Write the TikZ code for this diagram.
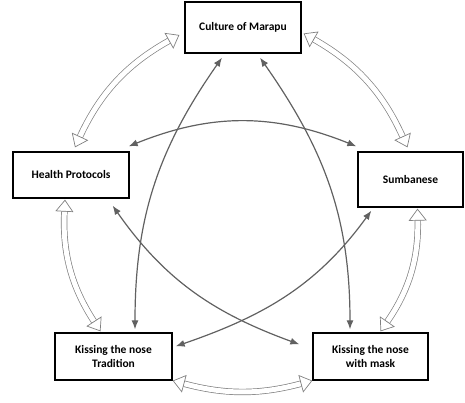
\documentclass[tikz,border=0pt]{standalone}
\usepackage{fontspec}
\setmainfont{Carlito}
\usepackage{tikz}
\usetikzlibrary{arrows.meta}

\begin{document}
\begin{tikzpicture}[
  x=1pt, y=1pt,
  font=\fontsize{11.5}{13.5}\selectfont\bfseries,
  box/.style={draw, line width=1.3pt, fill=white, align=center, inner sep=2pt},
  arrow/.style={{Latex[length=9pt,width=7pt]}-{Latex[length=9pt,width=7pt]},
                draw=black!62, line width=1.2pt},
  hollow/.style={{Triangle[open,length=12pt,width=18pt]}-{Triangle[open,length=12pt,width=18pt]},
                 draw=black!50, line width=0.7pt, double=white, double distance=5pt}
]
\useasboundingbox (0,0) rectangle (465,403);

\node[box, minimum width=116pt, minimum height=51pt] (marapu) at (243,375.5) {Culture of Marapu};
\node[box, minimum width=116pt, minimum height=46pt] (health) at (71,228) {Health Protocols};
\node[box, minimum width=105pt, minimum height=55pt] (sumba) at (410.5,223.5) {Sumbanese};
\node[box, minimum width=117pt, minimum height=47pt] (trad) at (113.5,46.5) {Kissing the nose\\Tradition};
\node[box, minimum width=115pt, minimum height=47pt] (mask) at (370.5,46.5) {Kissing the nose\\with mask};

% outer ring
\draw[hollow] ([xshift=-5pt,yshift=-7.5pt]marapu.west) to[bend right=18] ([xshift=4pt,yshift=4pt]health.north);
\draw[hollow] ([xshift=2pt,yshift=-6pt]marapu.east) to[bend left=18] ([xshift=-3pt,yshift=4pt]sumba.north);
\draw[hollow] ([xshift=-6pt,yshift=-1pt]health.south) to[bend right=18] ([xshift=-13pt,yshift=1pt]trad.north);
\draw[hollow] ([xshift=7pt,yshift=-1pt]sumba.south) to[bend left=18] ([xshift=10pt,yshift=1pt]mask.north);
\draw[hollow] (trad.south east) to[bend right=15] (mask.south west);

% inner links
\draw[arrow] ([xshift=-1pt,yshift=5pt]health.north east) to[bend left=22] ([xshift=-1pt,yshift=5pt]sumba.north west);
\draw[arrow] ([xshift=-21pt,yshift=-4pt]marapu.south) to[out=235,in=90] ([xshift=21.5pt,yshift=3pt]trad.north);
\draw[arrow] ([xshift=17pt,yshift=-4pt]marapu.south) to[out=-55,in=90] ([xshift=-20.5pt,yshift=3pt]mask.north);
\draw[arrow] ([xshift=-17pt,yshift=-7pt]health.south east) to[out=-55,in=160] ([xshift=-13pt,yshift=-12pt]mask.north west);
\draw[arrow] ([xshift=14pt,yshift=-3pt]sumba.south west) to[out=234,in=19] ([xshift=3pt,yshift=-14pt]trad.north east);
\end{tikzpicture}
\end{document}
